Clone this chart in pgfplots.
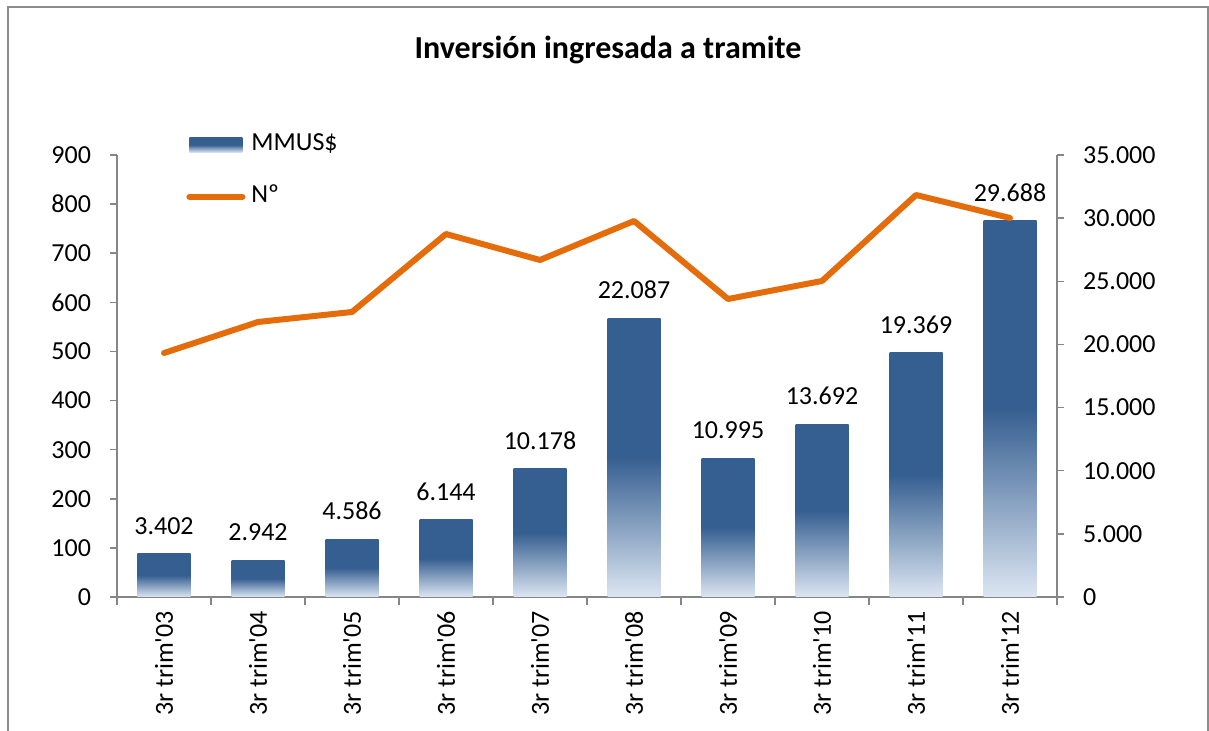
\documentclass[border=0pt]{standalone}
\usepackage{fontspec}
\setmainfont{Carlito}
\usepackage{pgfplots}
\pgfplotsset{compat=1.18}

\definecolor{barblue}{HTML}{365F91}
\definecolor{barlight}{HTML}{DCE6F2}
\definecolor{lineorange}{HTML}{E46C0A}
\definecolor{axgray}{HTML}{868686}

% bar heights (left axis), labels above bars, count line (right axis)
\pgfplotstableread{
x  mm     lab     n
0  87.6   3.402   19321
1  75.3   2.942   21776
2  118    4.586   22568
3  157    6.144   28744
4  261    10.178  26686
5  568    22.087  29774
6  283    10.995  23597
7  352    13.692  25023
8  497    19.369  31833
9  766    29.688  30011
}\datatable

\pgfplotsset{
  base/.style={
    scale only axis, width=470pt, height=221pt,
    at={(58.5pt,67pt)}, anchor=south west,
    xmin=-0.5, xmax=9.5,
    axis line style={axgray, line width=0.75pt},
    tick style={axgray, line width=0.75pt},
    major tick length=3.5pt, tick align=outside,
    tick label style={font=\fontsize{13}{15}\selectfont, black},
    /pgf/number format/assume math mode=true,
  },
}
\newcommand{\q}{\textquotesingle}

\begin{document}
\begin{tikzpicture}
\path[use as bounding box] (0,0) rectangle (604.5pt,365.5pt);
\draw[color=black!45, line width=1pt] (3.75pt,-5pt) -- (3.75pt,362pt) -- (604pt,362pt) -- (604pt,-5pt);
\node[font=\fontsize{16}{19}\selectfont\bfseries, anchor=base] at (304pt,336pt) {Inversión ingresada a tramite};

\begin{axis}[
    base,
    axis x line*=bottom, axis y line*=left,
    ymin=0, ymax=900, ytick={0,100,...,900},
    yticklabel style={xshift=-6pt},
    xtick={0,...,9},
    xticklabels={3r trim\q03,3r trim\q04,3r trim\q05,3r trim\q06,3r trim\q07,3r trim\q08,3r trim\q09,3r trim\q10,3r trim\q11,3r trim\q12},
    xtick style={draw=none},
    xticklabel style={rotate=90, anchor=east},
    extra x ticks={-0.5,0.5,...,9.5},
    extra x tick labels={},
    extra x tick style={xtick style={draw=axgray}, major tick length=4pt},
    clip=false,
]
\pgfplotsinvokeforeach{0,...,9}{
\addplot[ybar, bar width=26.5pt, bar shift=0pt, draw=none,
    shading=axis, top color=barblue, bottom color=barlight, middle color=barblue,
    restrict x to domain=#1:#1,
    point meta=explicit symbolic,
    nodes near coords,
    nodes near coords style={anchor=south, inner sep=0pt, yshift=9.5pt, font=\fontsize{13}{15}\selectfont, black},
] table[x=x, y=mm, meta=lab] {\datatable};
}
\end{axis}

\begin{axis}[
    base,
    axis x line=none, axis y line*=right,
    ymin=0, ymax=35000, ytick={0,5000,...,35000},
    scaled y ticks=false,
    yticklabel style={xshift=6pt, /pgf/number format/.cd, fixed, 1000 sep={.}},
    clip=false,
    legend style={at={(0.0734,1.0554)}, anchor=north west, draw=none, fill=none,
        inner sep=0pt, row sep=12pt, font=\fontsize{13}{15}\selectfont,
        nodes={text height=9pt, text depth=3pt, inner sep=1pt},
        /tikz/every odd column/.style={column sep=2pt}},
    legend cell align=left,
]
\addlegendimage{legend image code/.code={\shade[draw=none, top color=barblue, bottom color=barlight, middle color=barblue] (0pt,-3.75pt) rectangle (26.5pt,3.75pt);}}
\addlegendentry{MMUS\$}
\addplot[lineorange, line width=3pt, line join=round, line cap=round,
    legend image code/.code={\draw[lineorange, line width=3pt, line cap=round] (0pt,0pt) -- (26.5pt,0pt);}]
    table[x=x, y=n] {\datatable};
\addlegendentry{Nº}
\end{axis}
\end{tikzpicture}
\end{document}
